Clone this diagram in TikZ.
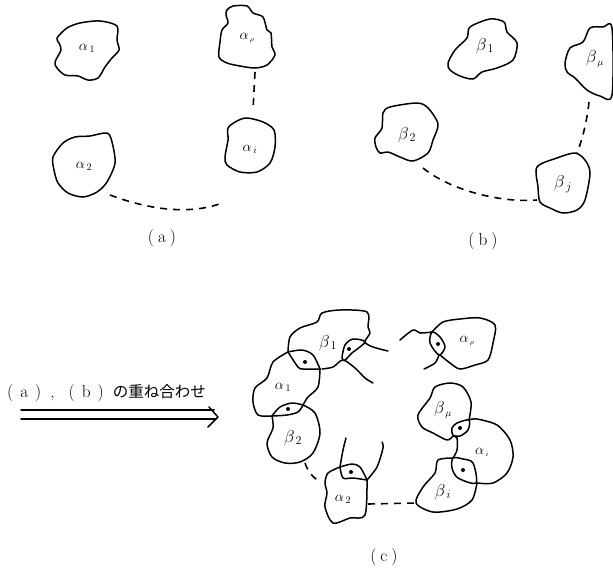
\documentclass[tikz,border=0pt]{standalone}
\usepackage{fontspec}
\newfontfamily\cjk{Noto Sans CJK JP}
\begin{document}
\begin{tikzpicture}[%
	x=1pt,y=-1pt,
	blob/.style={line width=1.5pt,line join=round,line cap=round},
	link/.style={line width=1.6pt,dash pattern=on 7pt off 6pt},
	sym/.style={font=\Large,inner sep=0pt},
	symb/.style={font=\LARGE,inner sep=0pt},
	figlabel/.style={font=\LARGE,inner sep=0pt}]
	\useasboundingbox (0,0) rectangle (613,571);
	% (a)
	\draw[blob] plot[smooth cycle,tension=.5] coordinates {(57,38) (67,28) (80,23) (100,21) (117,26) (117,40) (119,50) (112,58) (105,67) (98,78) (88,80) (78,76) (65,75) (57,68) (55,62) (61,50) (59,43)};
	\draw[blob] plot[smooth cycle,tension=.5] coordinates {(227,10) (233,6) (247,6) (253,13) (263,17) (267,30) (271,33) (272,47) (275,55) (267,65) (255,68) (240,66) (227,63) (219,57) (220,42) (222,30) (228,23) (226,15)};
	\draw[blob] plot[smooth cycle,tension=.5] coordinates {(53,157) (63,143) (75,137) (90,136) (107,133) (112,142) (115,163) (107,182) (97,192) (83,197) (68,193) (58,183) (54,170)};
	\draw[blob] plot[smooth cycle,tension=.5] coordinates {(228,128) (237,121) (247,118) (263,122) (274,130) (275,147) (270,163) (257,172) (240,172) (227,165) (225,157) (228,140)};
	\node[sym] (a1) at (87,48) {$\alpha_{\,1}$};
	\node[sym] (ap) at (247,38) {$\alpha_{\scriptscriptstyle\,\rho}$};
	\node[sym] (a2) at (84,166) {$\alpha_{\,2}$};
	\node[sym] (ai) at (250,149) {$\alpha_{\,i}$};
	\coordinate (apS) at (255,72);
	\coordinate (aiN) at (253,110);
	\coordinate (a2E) at (110,195);
	\coordinate (aiW) at (222,203);
	\draw[link] (apS) -- (aiN);
	\draw[link] (a2E) .. controls (150,210) and (190,215) .. (aiW);
	\node[figlabel] (capa) at (162,238) {(\hspace{4pt}a\hspace{4pt})};
	% (b)
	\draw[blob] plot[smooth cycle,tension=.5] coordinates {(448,63) (455,50) (467,38) (470,27) (490,19) (504,22) (507,32) (517,43) (513,60) (497,68) (482,72) (473,79) (460,76) (450,70)};
	\draw[blob] plot[smooth cycle,tension=.5] coordinates {(565,63) (570,48) (583,42) (590,28) (603,27) (612,28) (612,95) (600,96) (587,90) (575,78) (567,72)};
	\draw[blob] plot[smooth cycle,tension=.5] coordinates {(375,138) (382,128) (383,113) (390,107) (417,103) (428,108) (438,124) (433,140) (428,153) (413,161) (400,157) (388,152) (380,153) (376,147)};
	\draw[blob] plot[smooth cycle,tension=.5] coordinates {(537,167) (557,158) (575,153) (585,160) (590,173) (585,200) (577,210) (563,213) (550,208) (540,202) (538,187)};
	\node[symb] (b1) at (485,46) {$\beta_{\,1}$};
	\node[symb] (bm) at (595,59) {$\beta_{\scriptscriptstyle\,\mu}$};
	\node[symb] (b2) at (407,135) {$\beta_{\,2}$};
	\node[symb] (bj) at (563,184) {$\beta_{\,j}$};
	\coordinate (bmS) at (589,102);
	\coordinate (bjN) at (577,153);
	\coordinate (b2E) at (423,168);
	\coordinate (bjW) at (537,200);
	\draw[link] (bmS) .. controls (587,120) and (583,138) .. (bjN);
	\draw[link] (b2E) .. controls (450,190) and (500,203) .. (bjW);
	\node[figlabel] (capb) at (483,241) {(\hspace{4pt}b\hspace{4pt})};
	% arrow
	\node[inner sep=0pt,anchor=west] (overlay) at (7,393) {\LARGE(\hspace{7pt}a\hspace{7pt})\hspace{9pt},\hspace{14pt}(\hspace{7pt}b\hspace{7pt})\hspace{9pt}{\cjk\fontsize{15.5}{16}\selectfont の重ね合わせ}};
	\coordinate (arrT) at (21,410);
	\coordinate (arrTe) at (214,410);
	\coordinate (arrB) at (21,419);
	\coordinate (arrBe) at (216,419);
	\coordinate (tipU) at (209,407);
	\coordinate (tip) at (218,417);
	\coordinate (tipD) at (208,427);
	\draw[blob] (arrT) -- (arrTe);
	\draw[blob] (arrB) -- (arrBe);
	\draw[blob] (tipU) -- (tip) -- (tipD);
	% (c)
	\draw[blob] plot[smooth,tension=.5] coordinates {(288,352) (290,337) (300,328) (317,322) (322,313) (340,310) (367,312) (368,327) (370,333) (365,342) (373,347) (388,351)};
	\draw[blob] plot[smooth cycle,tension=.5] coordinates {(365,342) (353,339) (345,345) (342,358) (345,360) (352,353)};
	\draw[blob] plot[smooth,tension=.5] coordinates {(322,369) (333,367) (343,360) (355,368) (365,378) (373,383)};
	\draw[blob] plot[smooth,tension=.5] coordinates {(288,352) (273,362) (267,378) (255,388) (253,402) (258,415) (272,416)};
	\draw[blob] plot[smooth,tension=.5] coordinates {(320,369) (318,387) (308,397) (303,405)};
	\draw[blob] plot[smooth,tension=.5] coordinates {(288,352) (302,350) (313,355) (320,369)};
	\draw[blob] plot[smooth,tension=.5] coordinates {(288,352) (298,367) (303,369) (320,369)};
	\draw[blob] plot[smooth,tension=.5] coordinates {(272,416) (280,407) (292,403) (303,405)};
	\draw[blob] plot[smooth,tension=.5] coordinates {(303,405) (298,412) (287,415) (272,416)};
	\draw[blob] plot[smooth,tension=.5] coordinates {(272,416) (273,428) (267,443) (272,457) (285,463) (300,462) (313,453) (320,433) (315,413) (303,405)};
	\draw[blob] plot[smooth,tension=.5] coordinates {(340,467) (328,473) (325,483) (327,493) (325,507) (333,523) (350,518) (365,515) (367,480)};
	\draw[blob] plot[smooth,tension=.5] coordinates {(367,480) (353,478) (343,478) (340,467)};
	\draw[blob] plot[smooth,tension=.5] coordinates {(340,467) (352,464) (360,467) (367,480)};
	\draw[blob] plot[smooth,tension=.5] coordinates {(340,467) (343,450) (346,438)};
	\draw[blob] plot[smooth,tension=.5] coordinates {(367,480) (377,467) (383,448) (382,442)};
	\draw[blob] plot[smooth,tension=.5] coordinates {(400,340) (413,330) (420,333) (432,332)};
	\draw[blob] plot[smooth,tension=.5] coordinates {(432,332) (443,322) (460,319) (480,318) (495,325) (493,343) (488,360) (475,365) (460,369) (450,363) (440,355)};
	\draw[blob] plot[smooth cycle,tension=.5] coordinates {(432,332) (430,343) (439,355) (445,347) (440,337)};
	\draw[blob] plot[smooth,tension=.5] coordinates {(439,355) (435,363) (424,369)};
	\draw[blob] plot[smooth,tension=.5] coordinates {(469,420) (471,402) (463,387) (450,383) (435,387) (430,398) (418,415) (422,427) (433,433) (447,440) (453,436)};
	\draw[blob] plot[smooth cycle,tension=.5] coordinates {(469,420) (468,430) (460,436) (453,435) (452,428) (457,423)};
	\draw[blob] plot[smooth,tension=.5] coordinates {(469,420) (477,419) (497,425) (510,440) (513,457) (507,473) (493,483) (477,483)};
	\draw[blob] plot[smooth,tension=.5] coordinates {(453,436) (457,438) (457,450) (453,458)};
	\draw[blob] plot[smooth cycle,tension=.5] coordinates {(453,458) (452,468) (458,478) (476,483) (473,463) (463,459)};
	\draw[blob] plot[smooth,tension=.5] coordinates {(453,458) (438,460) (435,473) (423,487) (416,503) (433,512) (457,509) (472,500) (477,483)};
	\foreach \dotx/\doty in {305/362,349/349,288/409,351/472,438/344,460/428,463/470}
		\fill (\dotx,\doty) circle (2pt);
	\node[symb] (c-b1) at (328,343) {$\beta_{\,1}$};
	\node[sym] (c-a1) at (283,387) {$\alpha_{\,1}$};
	\node[symb] (c-b2) at (293,438) {$\beta_{\,2}$};
	\node[sym] (c-a2) at (343,499) {$\alpha_{\,2}$};
	\node[sym] (c-ap) at (467,341) {$\alpha_{\scriptscriptstyle\,\rho}$};
	\node[symb] (c-bm) at (443,410) {$\beta_{\scriptscriptstyle\,\mu}$};
	\node[sym] (c-ai) at (482,452) {$\alpha_{\scriptscriptstyle\,i}$};
	\node[symb] (c-bi) at (443,492) {$\beta_{\,i}$};
	\coordinate (cb2S) at (305,463);
	\coordinate (ca2W) at (321,482);
	\coordinate (ca2E) at (368,504);
	\coordinate (cbiW) at (416,503);
	\draw[link] (cb2S) .. controls (308,472) and (313,478) .. (ca2W);
	\draw[link] (ca2E) -- (cbiW);
	\node[figlabel] (capc) at (384,557) {(\hspace{4pt}c\hspace{4pt})};
\end{tikzpicture}
\end{document}
